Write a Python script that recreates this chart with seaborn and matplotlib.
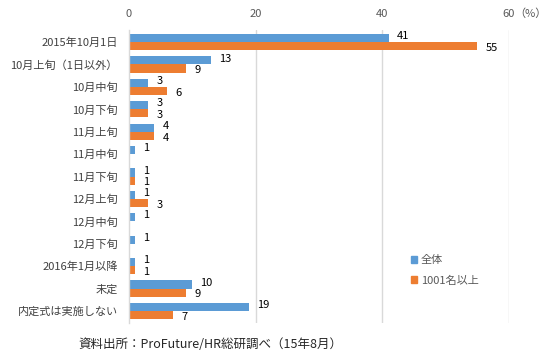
import matplotlib
matplotlib.use("Agg")
import matplotlib.pyplot as plt
import seaborn as sns
import pandas as pd

categories = ["2015年10月1日", "10月上旬（1日以外）", "10月中旬", "10月下旬", "11月上旬",
              "11月中旬", "11月下旬", "12月上旬", "12月中旬", "12月下旬",
              "2016年1月以降", "未定", "内定式は実施しない"]
series_names = ["全体", "1001名以上"]
all_vals = [41, 13, 3, 3, 4, 1, 1, 1, 1, 1, 1, 10, 19]
large_vals = [55, 9, 6, 3, 4, 0, 1, 3, 0, 0, 1, 9, 7]
x_ticks = [0, 20, 40, 60]

sns.set_theme(style="white")
plt.rcParams['font.family'] = ['Noto Sans CJK JP', 'DejaVu Sans']

df = pd.DataFrame({
    "cat": categories * 2,
    "series": [series_names[0]] * len(categories) + [series_names[1]] * len(categories),
    "val": all_vals + large_vals,
})

fig = plt.figure(figsize=(5.51, 3.64), dpi=100)
ax = fig.add_axes([129/551, 1-323/364, 380/551, 293/364])
colors = ["#5B9BD5", "#ED7D31"]
sns.barplot(data=df, y="cat", x="val", hue="series", orient="h", palette=colors,
            width=0.72, ax=ax, legend=False, saturation=1, linewidth=0)

ax.set_xlim(0, 60)
ax.set_ylim(12.54, -0.54)
ax.set_xticks(x_ticks)
ax.xaxis.tick_top()
ax.tick_params(axis="x", length=0, labelsize=8, colors="#595959", pad=8)
ax.tick_params(axis="y", length=0, labelsize=8, colors="#404040", pad=8)
ax.set_xlabel("")
ax.set_ylabel("")
for v in [20, 40, 60]:
    ax.axvline(v, color="#D9D9D9", lw=1, zorder=0)
for s in ["top", "right", "bottom"]:
    ax.spines[s].set_visible(False)
ax.spines["left"].set_color("#D9D9D9")
ax.spines["left"].set_linewidth(1)

for i, (a, b) in enumerate(zip(all_vals, large_vals)):
    ax.text(a + 1.3, i - 0.26, str(a), fontsize=8, color="black", va="center", ha="left")
    if b > 0:
        ax.text(b + 1.3, i + 0.26, str(b), fontsize=8, color="black", va="center", ha="left")

fig.text(530/551, 1-14/364, "（%）", fontsize=8, color="#595959", ha="center", va="center")

from matplotlib.patches import Patch
handles = [Patch(color=c) for c in colors]
ax.legend(handles, series_names, loc="upper left", bbox_to_anchor=(0.715, 0.265),
          frameon=False, fontsize=8, handlelength=0.6, handleheight=0.6,
          handletextpad=0.3, labelspacing=0.9, labelcolor="#595959")

fig.text(210/551, 1-345/364, "資料出所：ProFuture/HR総研調べ（15年8月）", fontsize=9,
         color="#262626", ha="center", va="center")

fig.savefig("out.png", dpi=100)
